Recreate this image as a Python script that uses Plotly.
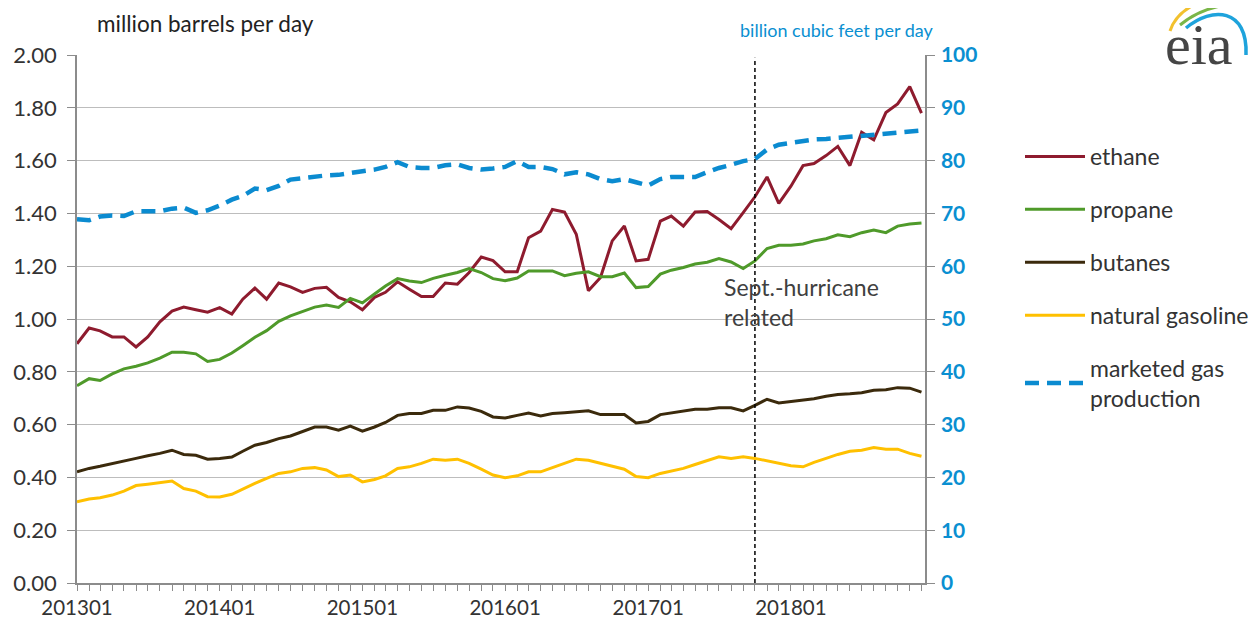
import pandas as pd
import plotly.graph_objects as go

# ---- data ----
months = pd.date_range("2013-01-01", periods=72, freq="MS")

ethane = [0.906, 0.966, 0.955, 0.932, 0.932, 0.894, 0.932, 0.989, 1.030, 1.045, 1.035, 1.026,
          1.043, 1.019, 1.075, 1.117, 1.075, 1.136, 1.122, 1.101, 1.116, 1.120, 1.082, 1.065,
          1.035, 1.082, 1.101, 1.141, 1.113, 1.085, 1.085, 1.136, 1.132, 1.176, 1.235, 1.221,
          1.179, 1.179, 1.308, 1.333, 1.415, 1.405, 1.321, 1.107, 1.157, 1.296, 1.352, 1.220,
          1.226, 1.371, 1.390, 1.352, 1.405, 1.407, 1.377, 1.342, 1.403, 1.463, 1.538, 1.438,
          1.503, 1.581, 1.589, 1.619, 1.654, 1.581, 1.707, 1.679, 1.782, 1.815, 1.880, 1.780]

propane = [0.747, 0.774, 0.767, 0.792, 0.811, 0.821, 0.834, 0.852, 0.874, 0.874, 0.868, 0.839,
           0.847, 0.871, 0.899, 0.931, 0.956, 0.991, 1.012, 1.029, 1.045, 1.053, 1.044, 1.078,
           1.061, 1.095, 1.125, 1.153, 1.144, 1.138, 1.154, 1.166, 1.176, 1.191, 1.176, 1.153,
           1.145, 1.155, 1.182, 1.182, 1.182, 1.164, 1.173, 1.179, 1.160, 1.160, 1.174, 1.119,
           1.123, 1.170, 1.185, 1.195, 1.208, 1.215, 1.229, 1.216, 1.191, 1.220, 1.267, 1.279,
           1.279, 1.284, 1.296, 1.304, 1.319, 1.312, 1.327, 1.337, 1.327, 1.352, 1.360, 1.364]

butanes = [0.421, 0.434, 0.442, 0.453, 0.463, 0.472, 0.482, 0.491, 0.503, 0.487, 0.484, 0.469,
           0.472, 0.477, 0.499, 0.522, 0.532, 0.547, 0.557, 0.575, 0.591, 0.591, 0.579, 0.594,
           0.575, 0.591, 0.608, 0.635, 0.642, 0.642, 0.654, 0.654, 0.667, 0.663, 0.650, 0.629,
           0.625, 0.635, 0.644, 0.633, 0.642, 0.645, 0.648, 0.652, 0.638, 0.638, 0.638, 0.606,
           0.612, 0.638, 0.645, 0.652, 0.658, 0.658, 0.664, 0.664, 0.652, 0.673, 0.696, 0.682,
           0.688, 0.692, 0.698, 0.707, 0.714, 0.717, 0.721, 0.730, 0.732, 0.740, 0.738, 0.723]

natural_gasoline = [0.308, 0.318, 0.323, 0.333, 0.348, 0.369, 0.374, 0.381, 0.386, 0.358, 0.348, 0.327,
                    0.326, 0.336, 0.356, 0.377, 0.396, 0.415, 0.421, 0.434, 0.437, 0.428, 0.403, 0.409,
                    0.383, 0.392, 0.406, 0.434, 0.440, 0.453, 0.469, 0.465, 0.469, 0.453, 0.431, 0.409,
                    0.399, 0.406, 0.421, 0.421, 0.437, 0.453, 0.469, 0.465, 0.453, 0.444, 0.431, 0.403,
                    0.399, 0.415, 0.424, 0.434, 0.449, 0.465, 0.478, 0.472, 0.478, 0.472, 0.462, 0.453,
                    0.444, 0.440, 0.457, 0.472, 0.487, 0.499, 0.503, 0.513, 0.507, 0.507, 0.491, 0.480]

marketed_gas = [68.9, 68.7, 69.4, 69.6, 69.5, 70.4, 70.4, 70.4, 70.9, 71.1, 70.1, 70.6,
                71.5, 72.6, 73.3, 74.7, 74.4, 75.2, 76.4, 76.7, 76.9, 77.2, 77.3, 77.7,
                78.0, 78.3, 78.8, 79.7, 78.8, 78.6, 78.6, 79.1, 79.3, 78.6, 78.3, 78.5,
                78.8, 79.9, 78.8, 78.8, 78.4, 77.4, 77.8, 77.4, 76.5, 76.1, 76.5, 75.9,
                75.3, 76.5, 76.9, 76.9, 76.9, 77.8, 78.6, 79.2, 79.9, 80.3, 82.1, 83.0,
                83.3, 83.8, 84.0, 84.1, 84.3, 84.5, 84.7, 84.9, 85.1, 85.2, 85.5, 85.7]

x_tick_dates = ["2013-01-01", "2014-01-01", "2015-01-01", "2016-01-01", "2017-01-01", "2018-01-01"]
x_tick_labels = ["201301", "201401", "201501", "201601", "201701", "201801"]
left_ticks = [0.0, 0.2, 0.4, 0.6, 0.8, 1.0, 1.2, 1.4, 1.6, 1.8, 2.0]
right_ticks = [0, 10, 20, 30, 40, 50, 60, 70, 80, 90, 100]
hurricane_month = "2017-10-01"

# ---- styling ----
FONT = "Lato"
TXT = "#333333"
BLUE_TXT = "#0a8fd1"
GRID = "#bdbdbd"
AXIS = "#8c8c8c"

# page has an 8px body margin: figure is 1242x612 drawn at (8,8)
W, H = 1242, 612
L, T, R, B = 69, 47, 325, 37
PLOT_BOTTOM = 8 + H - B          # screen pixel of the x axis
PLOT_H = PLOT_BOTTOM - (8 + T)

fig = go.Figure()

series = [
    ("ethane", ethane, "#8e1b2e"),
    ("propane", propane, "#4f9a2a"),
    ("butanes", butanes, "#3b2a0c"),
    ("natural gasoline", natural_gasoline, "#ffc000"),
]
for i, (name, vals, col) in enumerate(series):
    fig.add_trace(go.Scatter(
        x=months, y=vals, name=name, mode="lines",
        line=dict(color=col, width=3), legendgroup=str(i),
        yaxis="y",
    ))

fig.add_trace(go.Scatter(
    x=months, y=marketed_gas, name="marketed gas<br>production", mode="lines",
    line=dict(color="#0b8bd0", width=4.5, dash="14px,8px"), legendgroup="4",
    yaxis="y2",
))

# vertical hurricane marker
fig.add_shape(type="line", xref="x", yref="y", x0=hurricane_month, x1=hurricane_month,
              y0=0, y1=1.99, line=dict(color="black", width=1.5, dash="4px,3px"))

fig.add_annotation(x="2017-07-10", y=1.065, xref="x", yref="y", xanchor="left", yanchor="middle",
                   text="Sept.-hurricane<br>related", showarrow=False, align="left",
                   font=dict(family=FONT, size=23, color="#404040"))

# eia logo / titles positioned with a helper converting screen pixels to paper coords
def px(xp, yp):
    return (xp - 77) / 848.0, (PLOT_BOTTOM - yp) / PLOT_H

def path(points, cmd):
    pts = [px(a, b) for a, b in points]
    s = "M %.5f,%.5f %s " % (pts[0][0], pts[0][1], cmd)
    s += " ".join("%.5f,%.5f" % p for p in pts[1:])
    return s

# axis titles
fig.add_annotation(x=px(95, 0)[0], y=px(0, 23)[1], xref="paper", yref="paper",
                   xanchor="left", yanchor="middle",
                   text="million barrels per day", showarrow=False,
                   font=dict(family=FONT, size=22.5, color="#222222"))
fig.add_annotation(x=px(936, 0)[0], y=px(0, 30)[1], xref="paper", yref="paper",
                   xanchor="right", yanchor="middle",
                   text="billion cubic feet per day", showarrow=False,
                   font=dict(family=FONT, size=18, color=BLUE_TXT))

fig.add_shape(type="path", xref="paper", yref="paper",
              path=path([(1170, 31), (1176, 12), (1200, 2)], "Q"),
              line=dict(color="#f2c12e", width=3))
fig.add_shape(type="path", xref="paper", yref="paper",
              path=path([(1180, 25), (1203, 6), (1236, 4)], "Q"),
              line=dict(color="#7ab648", width=3))
fig.add_shape(type="path", xref="paper", yref="paper",
              path=path([(1186, 28), (1212, 6), (1248, 8), (1246, 55)], "C"),
              line=dict(color="#1ea3dc", width=3.5))
fig.add_annotation(x=px(1199, 0)[0], y=px(0, 45)[1], xref="paper", yref="paper",
                   xanchor="center", yanchor="middle", text="eia", showarrow=False,
                   font=dict(family="Liberation Serif", size=58, color="#454545"))

lx, ly = px(1020, 135)

fig.update_layout(
    width=W, height=H,
    margin=dict(l=L, r=R, t=T, b=B, autoexpand=False),
    plot_bgcolor="white", paper_bgcolor="white",
    font=dict(family=FONT, size=21, color=TXT),
    showlegend=True,
    legend=dict(x=lx, y=ly, xanchor="left", yanchor="top",
                font=dict(family=FONT, size=23, color="#333333"),
                itemwidth=60, tracegroupgap=20, traceorder="grouped",
                bgcolor="rgba(0,0,0,0)"),
    xaxis=dict(
        type="date", range=["2013-01-01", "2018-12-10"],
        tickvals=x_tick_dates, ticktext=x_tick_labels,
        ticks="outside", ticklen=6, tickcolor=AXIS, ticklabelstandoff=0,
        minor=dict(dtick="M1", tick0="2013-01-01", ticks="outside", ticklen=6, tickcolor=AXIS,
                   showgrid=False),
        showline=True, linecolor=AXIS, linewidth=1.5, showgrid=False, zeroline=False,
        tickfont=dict(family=FONT, size=20.5, color=TXT),
    ),
    yaxis=dict(
        range=[0, 2.0], tickvals=left_ticks, tickformat=".2f",
        ticks="outside", ticklen=8, tickcolor=AXIS, ticklabelstandoff=6,
        showline=True, linecolor=AXIS, linewidth=1.5,
        showgrid=True, gridcolor=GRID, gridwidth=1.2, zeroline=False,
        tickfont=dict(family=FONT, size=22, color=TXT),
    ),
    yaxis2=dict(
        range=[0, 100], tickvals=right_ticks, overlaying="y", side="right",
        ticks="outside", ticklen=8, tickcolor=AXIS, ticklabelstandoff=2,
        showline=True, linecolor=AXIS, linewidth=1.5,
        showgrid=False, zeroline=False,
        tickfont=dict(family=FONT, size=21, color=BLUE_TXT, weight="bold"),
    ),
)

fig.write_html("out.html")
